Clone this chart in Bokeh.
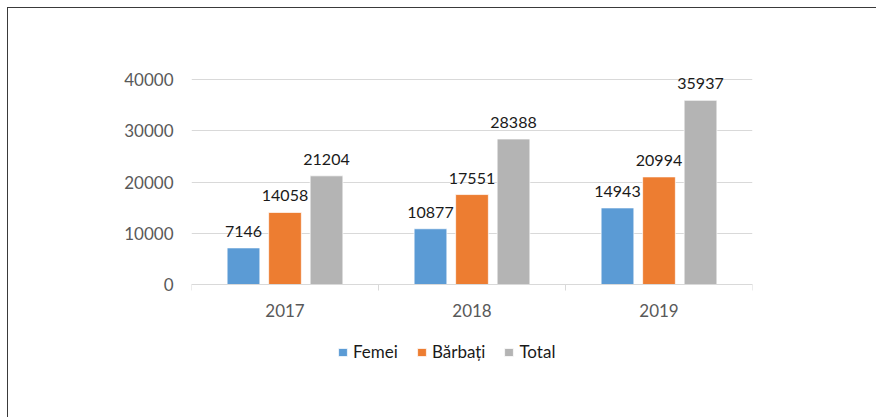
from bokeh.plotting import figure
from bokeh.models import (ColumnDataSource, Range1d, FixedTicker,
                          Legend, LegendItem, LabelSet)
from bokeh.core.properties import value
from bokeh.transform import dodge
from bokeh.embed import file_html
from bokeh.resources import INLINE

years = ["2017", "2018", "2019"]
femei = [7146, 10877, 14943]
barbati = [14058, 17551, 20994]
total = [21204, 28388, 35937]
series_names = ["Femei", "Bărbați", "Total"]
colors = ["#5B9BD5", "#ED7D31", "#B4B4B4"]
y_ticks = [0, 10000, 20000, 30000, 40000]

FONT = "Lato"

# layout (pixels): values 0..40000 span canvas y 276..71; frame extends beyond
W, H = 869, 410
TOP, BOTTOM, LEFT, RIGHT = 35, 45, 183, 125
ZERO_PX, MAX_PX = 276, 71
frame_bottom = H - BOTTOM
ymax_tick = max(y_ticks)
per_px = ymax_tick / (ZERO_PX - MAX_PX)
ymin = -per_px * (frame_bottom - ZERO_PX)
ymax = ymax_tick + per_px * (MAX_PX - TOP)

n = len(years)
pos = [i + 0.5 for i in range(n)]
src = ColumnDataSource(dict(years=years, pos=pos, femei=femei, barbati=barbati, total=total))

p = figure(x_range=Range1d(0, n), y_range=Range1d(ymin, ymax), width=W, height=H,
           output_backend="svg", toolbar_location=None,
           min_border_left=LEFT, min_border_right=RIGHT, min_border_top=TOP,
           min_border_bottom=BOTTOM)
p.outline_line_color = None
p.background_fill_color = "white"
p.border_fill_color = "white"
p.styles = {"border-left": "1px solid #3a3a3a", "border-top": "1px solid #3a3a3a",
            "margin-left": "7px", "margin-top": "7px"}

offsets = [-0.222, 0.0, 0.222]
cols = ["femei", "barbati", "total"]
renderers = []
for col, off, c in zip(cols, offsets, colors):
    r = p.vbar(x=dodge("pos", off), top=col, bottom=0, width=0.175,
               source=src, fill_color=c, line_color="white", line_width=0.7)
    renderers.append(r)
    lbl = LabelSet(x=dodge("pos", off), y=col, text=col,
                   source=src, text_align="center", text_baseline="bottom",
                   y_offset=11, text_font=value(FONT), text_font_size="16px",
                   text_color="#1a1a1a")
    p.add_layout(lbl)

# y axis
p.yaxis.ticker = FixedTicker(ticks=y_ticks)
p.yaxis.axis_line_color = None
p.yaxis.major_tick_line_color = None
p.yaxis.minor_tick_line_color = None
p.yaxis.major_label_text_font = FONT
p.yaxis.major_label_text_font_size = "17px"
p.yaxis.major_label_text_color = "#595959"
p.yaxis.major_label_standoff = 12

p.ygrid.grid_line_color = "#D9D9D9"
p.ygrid.grid_line_width = 1
p.xgrid.grid_line_color = None

# x axis at value 0: labels at category centres, ticks at category boundaries
xaxis = p.xaxis[0]
xaxis.fixed_location = 0
xaxis.ticker = FixedTicker(ticks=pos, minor_ticks=list(range(n + 1)))
xaxis.major_label_overrides = {x: y for x, y in zip(pos, years)}
xaxis.axis_line_color = "#D9D9D9"
xaxis.major_tick_line_color = None
xaxis.minor_tick_line_color = "#D9D9D9"
xaxis.minor_tick_in = 0
xaxis.minor_tick_out = 6
xaxis.major_label_text_font = FONT
xaxis.major_label_text_font_size = "17px"
xaxis.major_label_text_color = "#595959"
xaxis.major_label_standoff = 13

legend = Legend(items=[LegendItem(label=nm, renderers=[r]) for nm, r in zip(series_names, renderers)],
                orientation="horizontal", location=(146, 11),
                label_text_font=FONT, label_text_font_size="17px",
                label_text_color="#1a1a1a", glyph_width=11, glyph_height=10,
                label_standoff=5, spacing=18, padding=0, margin=0,
                border_line_color=None, background_fill_alpha=0)
p.add_layout(legend, "center")

open("out.html", "w").write(file_html(p, INLINE))
